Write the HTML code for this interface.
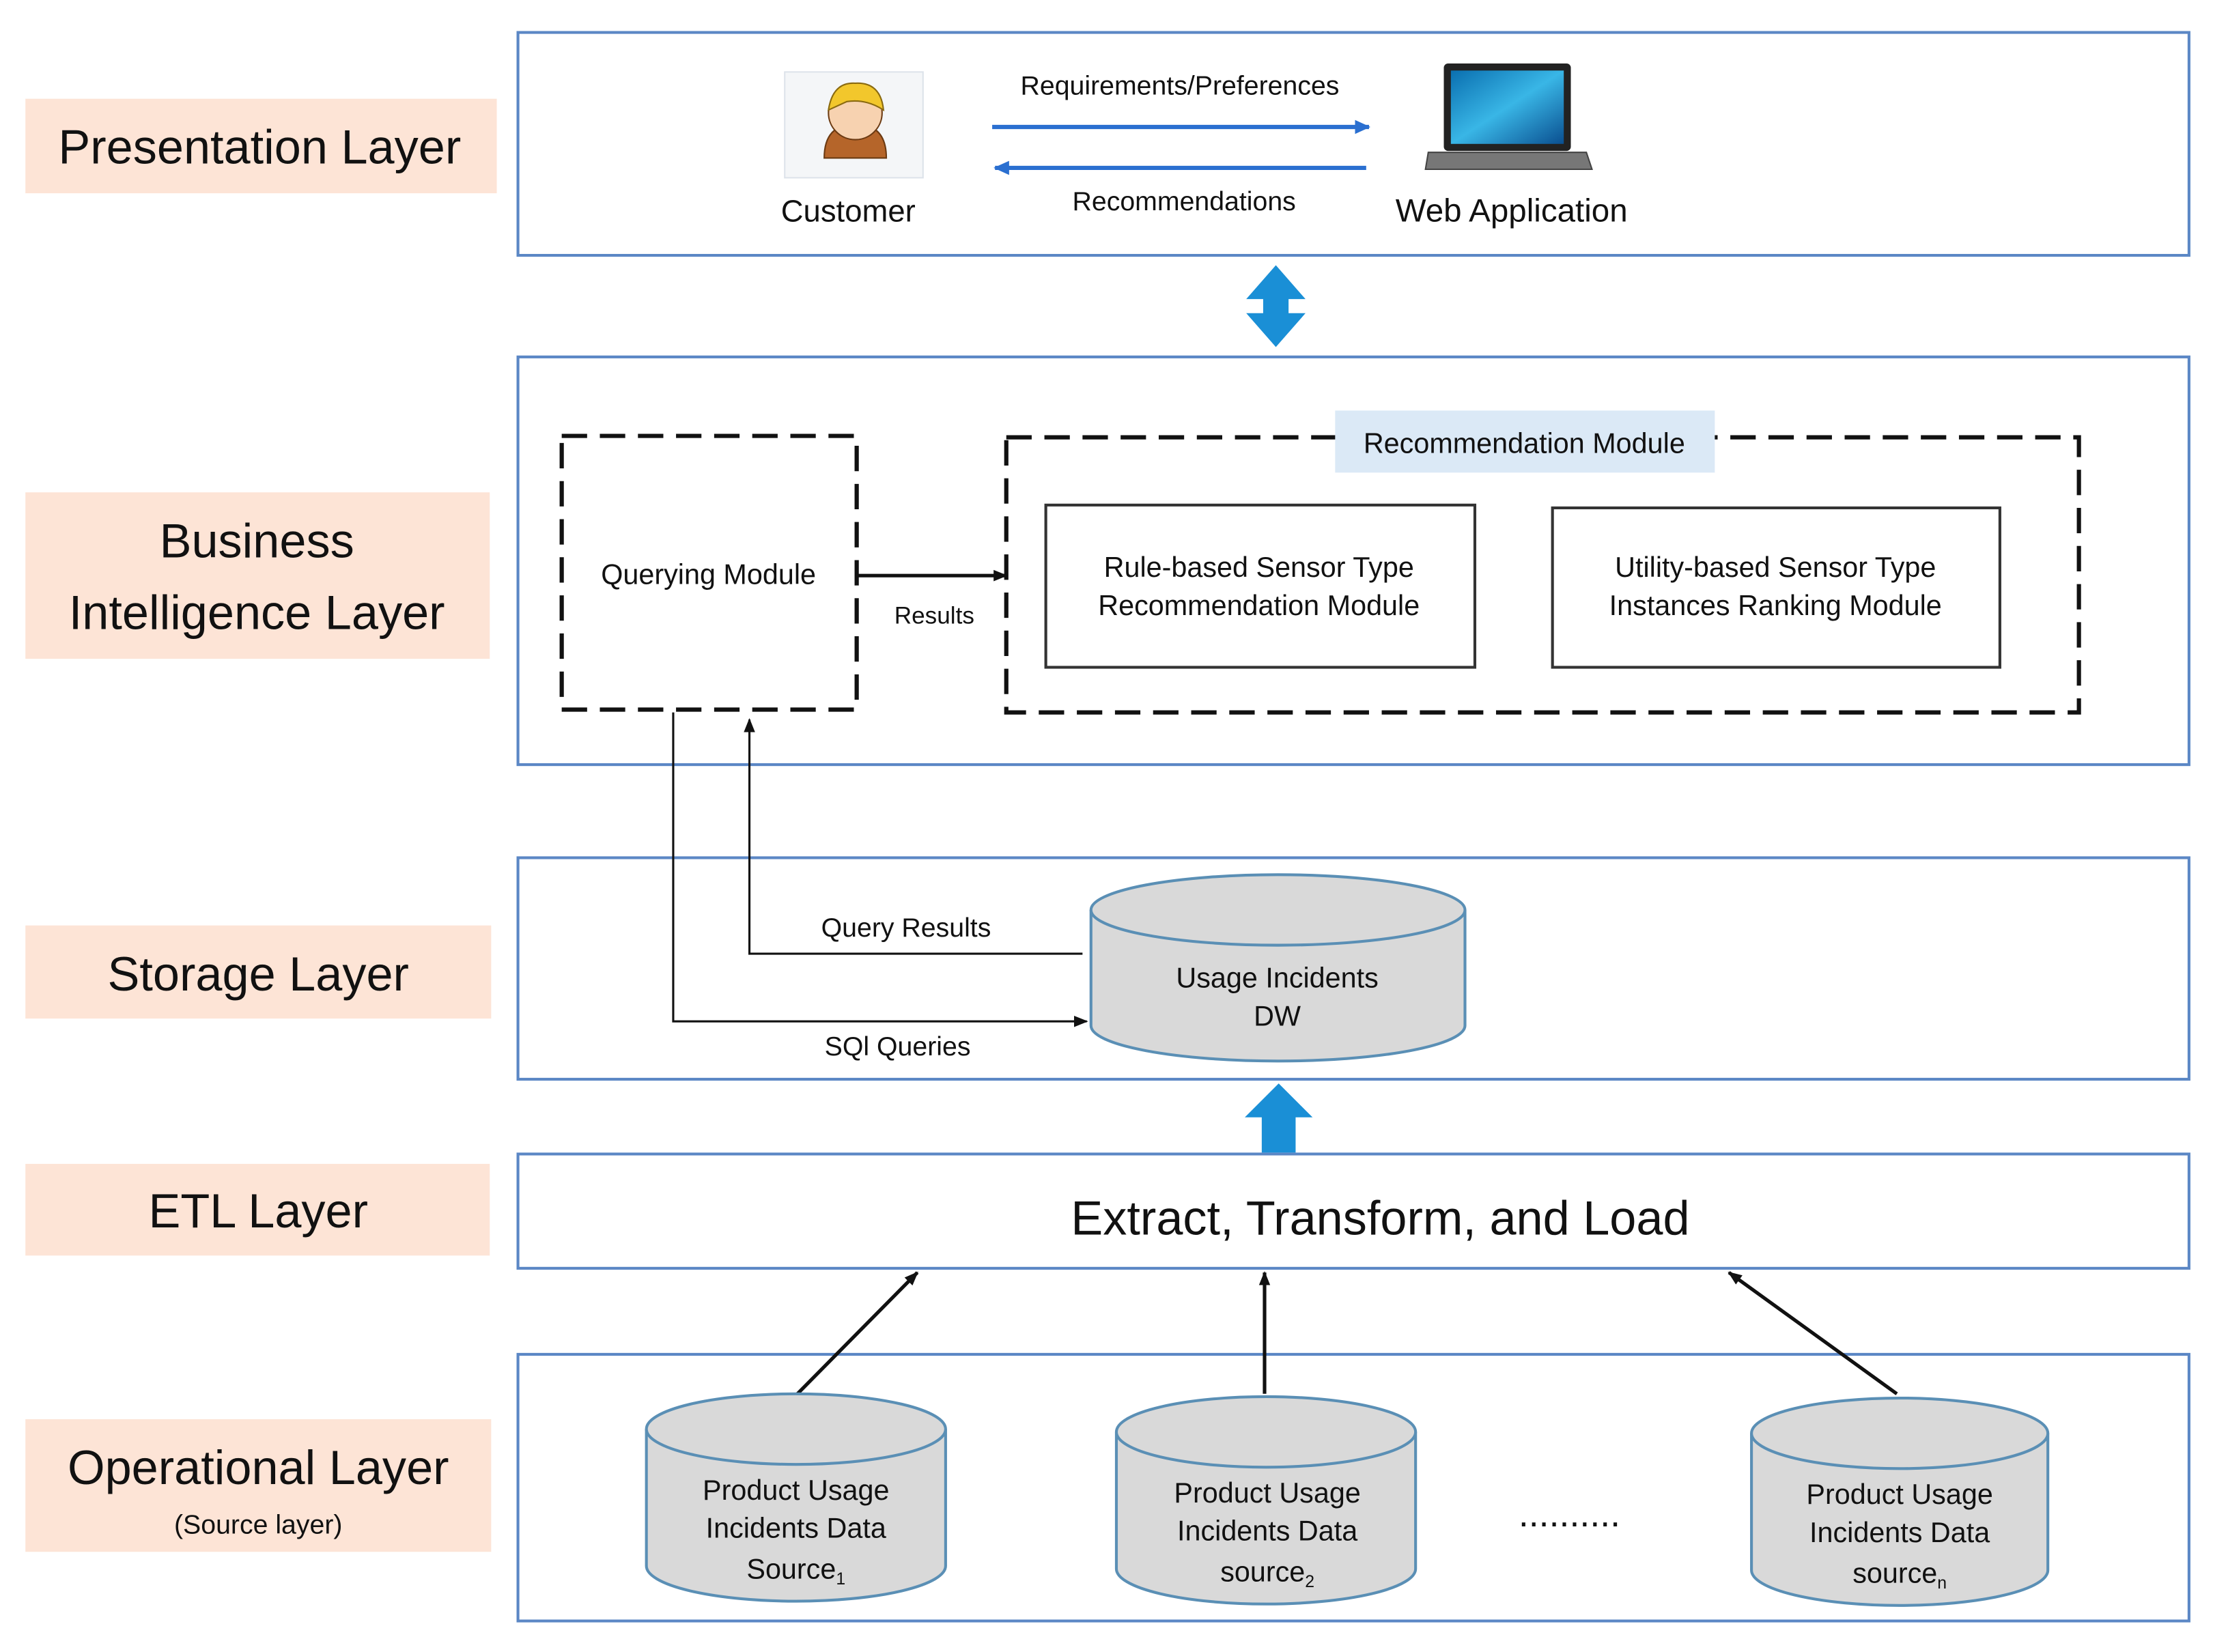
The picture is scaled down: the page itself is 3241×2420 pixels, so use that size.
<!DOCTYPE html>
<html><head><meta charset="utf-8"><style>
html,body{margin:0;padding:0;background:#fff;}
svg{display:block;}
text{font-family:"Liberation Sans",sans-serif;fill:#111;}
</style></head><body>
<svg width="3241" height="2420" viewBox="0 0 1568 1171" preserveAspectRatio="none" xmlns="http://www.w3.org/2000/svg">
<defs>
<marker id="ab" markerWidth="10" markerHeight="10" refX="9" refY="5" orient="auto" markerUnits="userSpaceOnUse"><path d="M0,1 L10,5 L0,9 Z" fill="#111"/></marker>
<marker id="abl" markerWidth="12" markerHeight="12" refX="10" refY="6" orient="auto" markerUnits="userSpaceOnUse"><path d="M0,1 L11,6 L0,11 Z" fill="#2a6fd0"/></marker>
<linearGradient id="scr" x1="0" y1="0" x2="1" y2="1"><stop offset="0" stop-color="#0a6fb0"/><stop offset="0.5" stop-color="#39b6e6"/><stop offset="1" stop-color="#0a4f90"/></linearGradient>
</defs>
<!-- label backgrounds -->
<g fill="#fde4d6">
<rect x="18" y="70" width="334" height="67"/>
<rect x="18" y="349" width="329" height="118"/>
<rect x="18" y="656" width="330" height="66"/>
<rect x="18" y="825" width="329" height="65"/>
<rect x="18" y="1006" width="330" height="94"/>
</g>
<g font-size="34" text-anchor="middle">
<text x="184" y="116">Presentation Layer</text>
<text x="182" y="395">Business</text>
<text x="182" y="446">Intelligence Layer</text>
<text x="183" y="702">Storage Layer</text>
<text x="183" y="870">ETL Layer</text>
<text x="183" y="1052">Operational Layer</text>
<text x="183" y="1087" font-size="19">(Source layer)</text>
</g>
<!-- layer boxes -->
<g fill="none" stroke="#5b87c5" stroke-width="2">
<rect x="367" y="23" width="1184" height="158"/>
<rect x="367" y="253" width="1184" height="289"/>
<rect x="367" y="608" width="1184" height="157"/>
<rect x="367" y="818" width="1184" height="81"/>
<rect x="367" y="960" width="1184" height="189"/>
</g>
<!-- presentation -->
<rect x="556" y="51" width="98" height="75" fill="#f4f6f8" stroke="#dde3ea"/>
<path d="M584,112 Q584,88 606,88 Q628,88 628,112 Z" fill="#b5652a" stroke="#6b3a12"/>
<circle cx="606" cy="80" r="19" fill="#f7d2b0" stroke="#6b3a12"/>
<path d="M587,78 Q590,58 606,59 Q624,58 626,78 Q614,70 600,72 Z" fill="#f2c72c" stroke="#8a6a10"/>
<text x="601" y="157" font-size="22" text-anchor="middle">Customer</text>
<text x="836" y="67" font-size="19" text-anchor="middle">Requirements/Preferences</text>
<line x1="703" y1="90" x2="970" y2="90" stroke="#2a6fd0" stroke-width="3" marker-end="url(#abl)"/>
<line x1="968" y1="119" x2="705" y2="119" stroke="#2a6fd0" stroke-width="3" marker-end="url(#abl)"/>
<text x="839" y="149" font-size="19" text-anchor="middle">Recommendations</text>
<rect x="1023" y="45" width="90" height="62" rx="3" fill="#222"/>
<rect x="1028" y="50" width="80" height="52" fill="url(#scr)"/>
<path d="M1012,108 L1124,108 L1128,120 L1010,120 Z" fill="#777" stroke="#444"/>
<text x="1071" y="157" font-size="23" text-anchor="middle">Web Application</text>
<!-- double arrow -->
<path d="M904,188 L925,212 L913,212 L913,222 L925,222 L904,246 L883,222 L895,222 L895,212 L883,212 Z" fill="#1a8fd6"/>
<!-- BI -->
<rect x="398" y="309" width="209" height="194" fill="none" stroke="#111" stroke-width="3" stroke-dasharray="18,9"/>
<rect x="713" y="310" width="760" height="195" fill="none" stroke="#111" stroke-width="3" stroke-dasharray="18,9"/>
<rect x="946" y="291" width="269" height="44" fill="#dbe9f6"/>
<text x="1080" y="321" font-size="20" text-anchor="middle">Recommendation Module</text>
<text x="502" y="414" font-size="20" text-anchor="middle">Querying Module</text>
<line x1="607" y1="408" x2="713" y2="408" stroke="#111" stroke-width="2.5" marker-end="url(#ab)"/>
<text x="662" y="442" font-size="17" text-anchor="middle">Results</text>
<rect x="741" y="358" width="304" height="115" fill="#fff" stroke="#333" stroke-width="2"/>
<rect x="1100" y="360" width="317" height="113" fill="#fff" stroke="#333" stroke-width="2"/>
<g font-size="20" text-anchor="middle">
<text x="892" y="409">Rule-based Sensor Type</text>
<text x="892" y="436">Recommendation Module</text>
<text x="1258" y="409">Utility-based Sensor Type</text>
<text x="1258" y="436">Instances Ranking Module</text>
</g>
<!-- connectors BI-storage -->
<polyline points="477,505 477,724 770,724" fill="none" stroke="#111" stroke-width="1.5" marker-end="url(#ab)"/>
<polyline points="767,676 531,676 531,510" fill="none" stroke="#111" stroke-width="1.5" marker-end="url(#ab)"/>
<text x="642" y="664" font-size="19" text-anchor="middle">Query Results</text>
<text x="636" y="748" font-size="19" text-anchor="middle">SQl Queries</text>
<!-- DW cylinder -->
<g stroke="#5a8fb5" stroke-width="2" fill="#d9d9d9">
<path d="M773,645 L773,727 A132,25 0 0 0 1038,727 L1038,645"/>
<ellipse cx="905.5" cy="645" rx="132.5" ry="25"/>
</g>
<text x="905" y="700" font-size="20" text-anchor="middle">Usage Incidents</text>
<text x="905" y="727" font-size="20" text-anchor="middle">DW</text>
<!-- up arrow -->
<path d="M906,768 L930,792 L918,792 L918,817 L894,817 L894,792 L882,792 Z" fill="#1a8fd6"/>
<text x="978" y="875" font-size="34" text-anchor="middle">Extract, Transform, and Load</text>
<!-- arrows from sources -->
<g stroke="#111" stroke-width="2.5">
<line x1="565" y1="988" x2="650" y2="902" marker-end="url(#ab)"/>
<line x1="896" y1="988" x2="896" y2="902" marker-end="url(#ab)"/>
<line x1="1344" y1="988" x2="1225" y2="902" marker-end="url(#ab)"/>
</g>
<!-- source cylinders -->
<g stroke="#5a8fb5" stroke-width="2" fill="#d9d9d9">
<path d="M458,1013 L458,1110 A106,25 0 0 0 670,1110 L670,1013"/>
<ellipse cx="564" cy="1013" rx="106" ry="25"/>
<path d="M791,1015 L791,1112 A106,25 0 0 0 1003,1112 L1003,1015"/>
<ellipse cx="897" cy="1015" rx="106" ry="25"/>
<path d="M1241,1016 L1241,1113 A105,25 0 0 0 1451,1113 L1451,1016"/>
<ellipse cx="1346" cy="1016" rx="105" ry="25"/>
</g>
<g font-size="20" text-anchor="middle">
<text x="564" y="1063">Product Usage</text>
<text x="564" y="1090">Incidents Data</text>
<text x="564" y="1119">Source<tspan font-size="12" dy="4">1</tspan></text>
<text x="898" y="1065">Product Usage</text>
<text x="898" y="1092">Incidents Data</text>
<text x="898" y="1121">source<tspan font-size="12" dy="4">2</tspan></text>
<text x="1346" y="1066">Product Usage</text>
<text x="1346" y="1093">Incidents Data</text>
<text x="1346" y="1122">source<tspan font-size="12" dy="4">n</tspan></text>
<text x="1112" y="1082" font-size="26">..........</text>
</g>
</svg>
</body></html>
